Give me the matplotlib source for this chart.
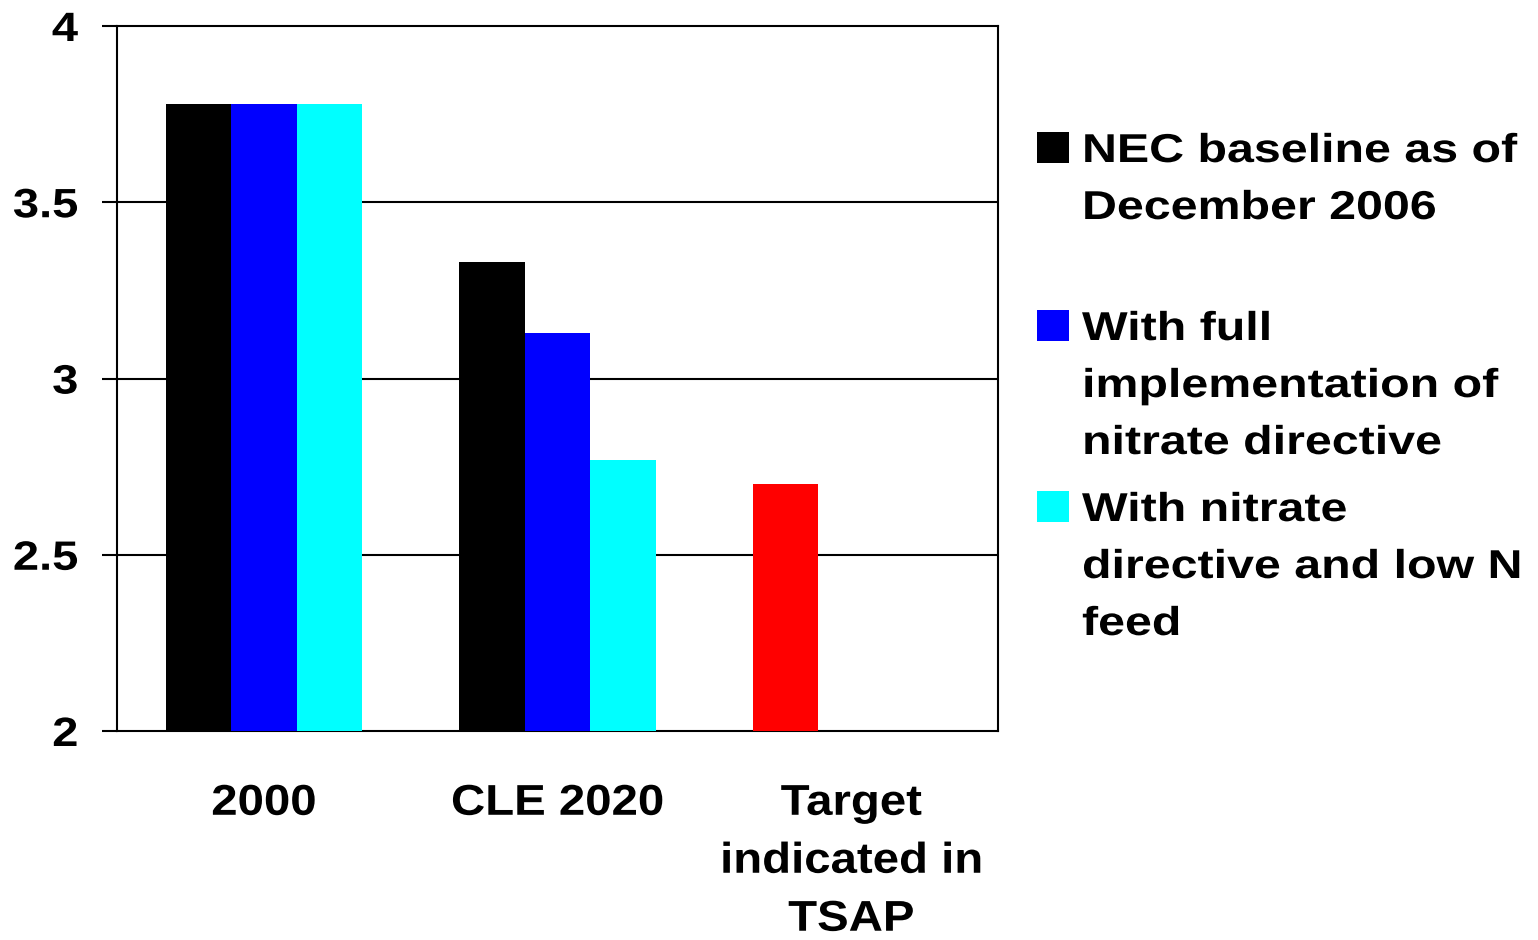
import numpy as np
import matplotlib
matplotlib.use("Agg")
import matplotlib.pyplot as plt
from matplotlib.patches import Rectangle
from matplotlib.patheffects import AbstractPathEffect
from matplotlib.transforms import Affine2D

plt.rcParams['font.family'] = ['Liberation Sans', 'DejaVu Sans']
plt.rcParams['font.weight'] = 'bold'

categories = ["2000", "CLE 2020", "Target\nindicated in\nTSAP"]
series_names = [
    "NEC baseline as of\nDecember 2006",
    "With full\nimplementation of\nnitrate directive",
    "With nitrate\ndirective and low N\nfeed",
]
nec_baseline = [3.78, 3.33, 2.70]
full_nitrate = [3.78, 3.13, np.nan]
nitrate_low_n = [3.78, 2.77, np.nan]
series_colors = ["#000000", "#0000FF", "#00FFFF"]
target_color = "#FF0000"
y_ticks = [2, 2.5, 3, 3.5, 4]


class Widen(AbstractPathEffect):
    """Draw text glyphs horizontally widened about a chosen anchor."""

    def __init__(self, sx, anchor="left"):
        super().__init__()
        self.sx = sx
        self.anchor = anchor

    def draw_path(self, renderer, gc, tpath, affine, rgbFace=None):
        ext = tpath.get_extents()
        if self.anchor == "center":
            x0 = 0.5 * (ext.x0 + ext.x1)
        elif self.anchor == "right":
            x0 = ext.x1
        else:
            x0 = 0.0
        widen = Affine2D().translate(-x0, 0).scale(self.sx, 1).translate(x0, 0)
        renderer.draw_path(gc, tpath, widen + affine, rgbFace)


fig = plt.figure(figsize=(15.38, 9.4), dpi=100)
ax = fig.add_axes([117 / 1538, 1 - 731 / 940, 881 / 1538, 705 / 940])

x = np.arange(len(categories))
width = 0.223
all_series = [nec_baseline, full_nitrate, nitrate_low_n]
for i, (vals, col) in enumerate(zip(all_series, series_colors)):
    v = np.array(vals, dtype=float)
    cols = [col] * len(v)
    if i == 0:
        cols[2] = target_color
    ax.bar(x + (i - 1) * width, v - 2, width, bottom=2, color=cols,
           edgecolor='none', zorder=3)

ax.set_xlim(-0.5, len(categories) - 0.5)
ax.set_ylim(2, 4)
ax.set_yticks(y_ticks)
ax.set_yticklabels([f"{t:g}" for t in y_ticks], fontsize=29.5, fontweight='bold')
ax.set_xticks(x)
ax.set_xticklabels(categories, fontsize=31, fontweight='bold', linespacing=1.58)
ax.tick_params(axis='x', length=0, pad=38)
ax.tick_params(axis='y', length=11, width=1.5, direction='out', pad=17)
for lbl in ax.get_yticklabels():
    lbl.set_path_effects([Widen(1.15, "right")])
for lbl in ax.get_xticklabels():
    lbl.set_path_effects([Widen(1.1, "center")])
for t in y_ticks[1:-1]:
    ax.axhline(t, color='black', linewidth=1.5, zorder=1)
for s in ax.spines.values():
    s.set_linewidth(1.5)
    s.set_color('black')

# legend drawn as squares with line-by-line labels
W, H = 1538, 940
starts = [162, 340, 521]
line_gap = 57
for name, col, base in zip(series_names, series_colors, starts):
    fig.patches.append(Rectangle((1037 / W, 1 - (base + 1) / H), 32 / W, 31 / H,
                                 transform=fig.transFigure, facecolor=col,
                                 edgecolor='none'))
    for j, line in enumerate(name.split("\n")):
        fig.text(1082 / W, 1 - (base + j * line_gap) / H, line, fontsize=29,
                 fontweight='bold', va='baseline', ha='left',
                 path_effects=[Widen(1.2, "left")])

fig.savefig("out.png", dpi=100, facecolor='white')
